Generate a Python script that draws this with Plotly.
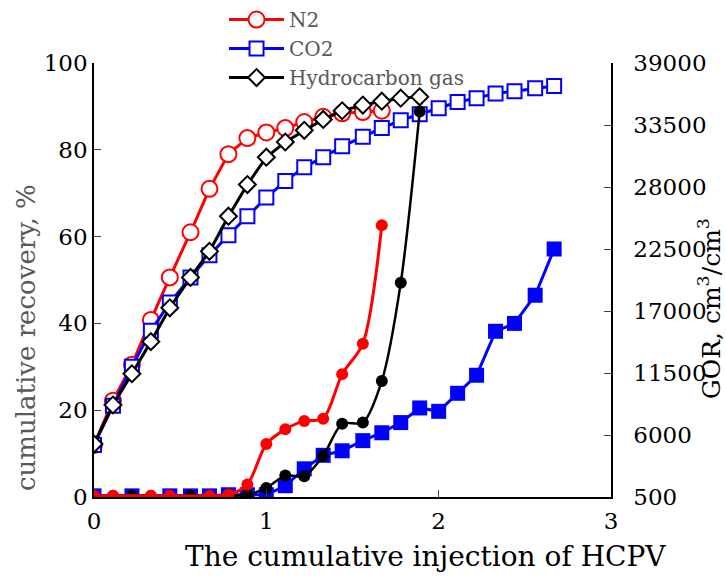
import plotly.graph_objects as go

# ---------------- data ----------------
x_all = [0, 0.11, 0.22, 0.33, 0.44, 0.56, 0.67, 0.78, 0.89, 1.0, 1.11, 1.22, 1.33,
         1.44, 1.56, 1.67, 1.78, 1.89, 2.0, 2.11, 2.22, 2.33, 2.44, 2.56, 2.67]

# cumulative recovery, %
n2_rec_x = x_all[:16]
n2_rec = [12, 22.2, 30.5, 40.8, 50.6, 61, 71, 79, 82.7, 84, 85, 86.4, 87.6, 88.4, 88.7, 89]
co2_rec_x = x_all[:25]
co2_rec = [12, 21, 30, 38.3, 44.8, 50.6, 55.7, 60.3, 64.7, 69, 72.8, 76, 78.3, 80.8, 83,
           85, 86.8, 88.2, 89.6, 91, 91.9, 93, 93.5, 94.2, 94.7]
hc_rec_x = x_all[:18]
hc_rec = [12.2, 21.2, 28.4, 35.8, 43.6, 50.6, 56.6, 64.7, 72, 78.3, 81.8, 84.5, 87, 89,
          90.3, 91.2, 91.9, 92.2]

# GOR, cm3/cm3
n2_gor_x = [0, 0.11, 0.33, 0.44, 0.67, 0.78, 0.89, 1.0, 1.11, 1.22, 1.33, 1.44, 1.56, 1.67]
n2_gor = [600, 600, 600, 600, 600, 700, 1600, 5200, 6500, 7250, 7450, 11400, 14100, 24600]
co2_gor_x = [0, 0.22, 0.44, 0.56, 0.67, 0.78, 0.89, 1.0, 1.11, 1.22, 1.33, 1.44, 1.56,
             1.67, 1.78, 1.89, 2.0, 2.11, 2.22, 2.33, 2.44, 2.56, 2.67]
co2_gor = [600, 600, 600, 600, 600, 700, 700, 700, 1500, 3000, 4200, 4600, 5500, 6200,
           7100, 8400, 8100, 9700, 11300, 15200, 15900, 18400, 22500]
hc_gor_x = x_all[:18]
hc_gor = [600, 600, 600, 600, 600, 600, 600, 600, 700, 1300, 2400, 2350, 4150, 7000,
          7100, 10800, 19500, 34700]

left_ticks = [0, 20, 40, 60, 80, 100]
right_ticks = [500, 6000, 11500, 17000, 22500, 28000, 33500, 39000]
right_labels = ["500", "6000", "11500", "17000", "22500", "28000", "33500", "39000"]
x_ticks = [0, 1, 2, 3]

RED = "#FF0000"
BLUE = "#0000FF"
BLACK = "#000000"
FONT = "DejaVu Serif"

fig = go.Figure()

# GOR (right axis, filled markers, no legend)
fig.add_trace(go.Scatter(x=co2_gor_x, y=co2_gor, yaxis="y2", mode="lines+markers",
                         line=dict(color=BLUE, width=3),
                         marker=dict(symbol="square", size=15, color=BLUE),
                         showlegend=False))
fig.add_trace(go.Scatter(x=hc_gor_x, y=hc_gor, yaxis="y2", mode="lines+markers",
                         line=dict(color=BLACK, width=2.5, shape="spline", smoothing=0.8),
                         marker=dict(symbol="circle", size=12, color=BLACK),
                         showlegend=False))
fig.add_trace(go.Scatter(x=n2_gor_x, y=n2_gor, yaxis="y2", mode="lines+markers",
                         line=dict(color=RED, width=3, shape="spline", smoothing=0.8),
                         marker=dict(symbol="circle", size=12, color=RED),
                         showlegend=False))

# recovery (left axis, open markers)
fig.add_trace(go.Scatter(x=n2_rec_x, y=n2_rec, name="N2", mode="lines+markers",
                         line=dict(color=RED, width=3),
                         marker=dict(symbol="circle", size=16, color="white",
                                     line=dict(color=RED, width=2))))
fig.add_trace(go.Scatter(x=co2_rec_x, y=co2_rec, name="CO2", mode="lines+markers",
                         line=dict(color=BLUE, width=3),
                         marker=dict(symbol="square", size=14, color="white",
                                     line=dict(color=BLUE, width=2))))
fig.add_trace(go.Scatter(x=hc_rec_x, y=hc_rec, name="Hydrocarbon gas", mode="lines+markers",
                         line=dict(color=BLACK, width=3),
                         marker=dict(symbol="diamond", size=13, color="white",
                                     line=dict(color=BLACK, width=2))))

fig.update_layout(
    width=726, height=578,
    margin=dict(l=94, r=115, t=63, b=81, autoexpand=False),
    paper_bgcolor="white", plot_bgcolor="white",
    font=dict(family=FONT, color="black", size=23),
    xaxis=dict(range=[0, 3], tickvals=x_ticks, ticks="inside", ticklen=7,
               showline=True, linecolor="black", linewidth=1.5, showgrid=False,
               zeroline=False, tickfont=dict(size=23), automargin=False,
               ticklabelstandoff=3),
    yaxis=dict(range=[0, 100], tickvals=left_ticks, ticks="inside", ticklen=7,
               showline=True, linecolor="black", linewidth=1.5, showgrid=False,
               zeroline=False, tickfont=dict(size=23), automargin=False,
               ticksuffix="\u2002"),
    yaxis2=dict(range=[500, 39000], tickvals=right_ticks, ticktext=right_labels,
                overlaying="y", side="right",
                ticks="inside", ticklen=7, showline=True, linecolor="black", linewidth=1.5,
                showgrid=False, zeroline=False, tickfont=dict(size=23), automargin=False,
                ticklabelstandoff=16),
    legend=dict(x=0.2515, y=1.145, xanchor="left", yanchor="top",
                font=dict(size=20, color="#595959"), bgcolor="rgba(0,0,0,0)",
                itemwidth=55, tracegroupgap=0),
    annotations=[
        dict(text="The cumulative injection of HCPV", xref="paper", yref="paper",
             x=0.642, y=-0.138, xanchor="center", yanchor="middle", showarrow=False,
             font=dict(size=28, color="black")),
        dict(text="cumulative recovery, %", xref="paper", yref="paper",
             x=-0.133, y=0.367, xanchor="center", yanchor="middle",
             textangle=-90, showarrow=False,
             font=dict(size=26, color="#595959")),
        dict(text="GOR, cm<sup>3</sup>/cm<sup>3</sup>", xref="paper", yref="paper",
             x=1.19, y=0.433, xanchor="center", yanchor="middle",
             textangle=-90, showarrow=False,
             font=dict(size=25, color="black")),
    ],
)

fig.write_html("out.html", config={"displayModeBar": False},
               post_script="document.body.style.margin='0';document.body.style.overflow='hidden';")
